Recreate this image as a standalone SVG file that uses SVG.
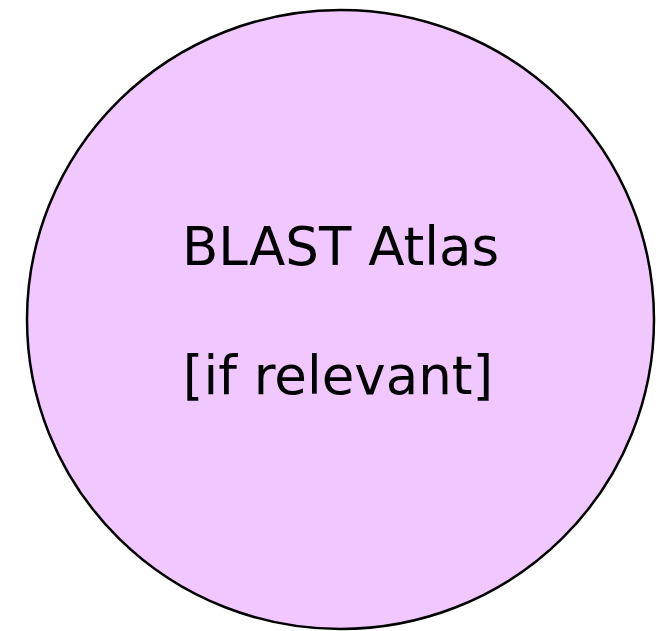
<svg xmlns="http://www.w3.org/2000/svg" width="670" height="631" viewBox="0 0 670 631">
<style>
.node-shape{fill:#f0c8ff;stroke:#000;stroke-width:2.5}
.label{font-family:"DejaVu Sans",Verdana,sans-serif;font-size:53px;fill:#000;text-anchor:middle}
</style>
<rect width="670" height="631" fill="#fff"/>
<g id="blast-atlas">
<ellipse class="node-shape" cx="340.5" cy="319.5" rx="313.5" ry="309.5"/>
<text class="label" x="340.5" y="265">BLAST Atlas</text>
<text class="label" x="338" y="394">[if relevant]</text>
</g>
<g id="connectors"></g>
</svg>
